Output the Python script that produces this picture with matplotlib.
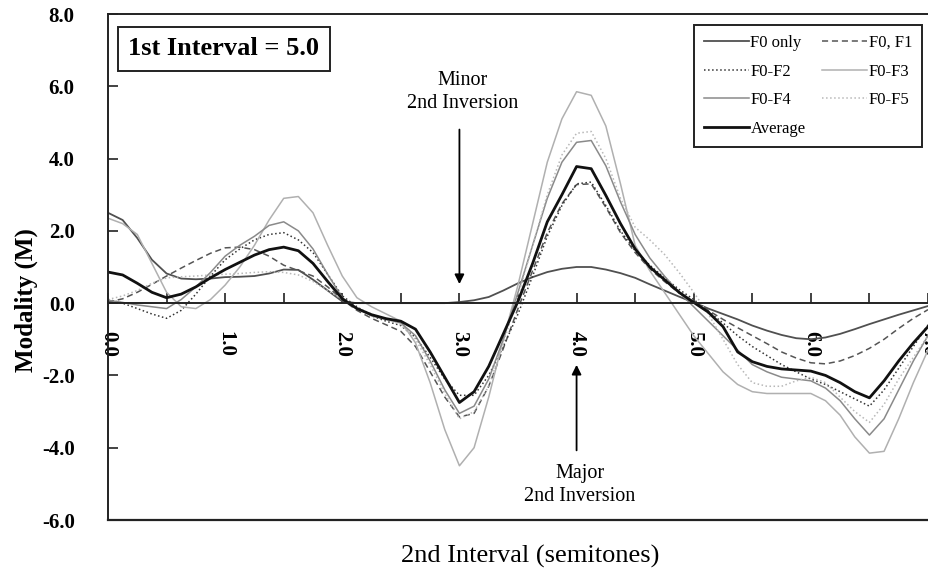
import numpy as np
import matplotlib.pyplot as plt
from matplotlib.ticker import MultipleLocator, FixedLocator

### Data (modality per 2nd interval, 1st interval = 5.0) ###
# sampled every 1/8 semitone from 0.0 to 7.0
semitones = np.arange(57) * 0.125

f0_only = [2.5, 2.3, 1.8, 1.2, 0.82, 0.68, 0.66, 0.68, 0.72, 0.73, 0.75, 0.82,
           0.93, 0.92, 0.65, 0.35, 0.05, 0.0, 0.0, 0.0, 0.0, 0.0, 0.0, 0.0,
           0.03, 0.08, 0.17, 0.35, 0.55, 0.72, 0.86, 0.95, 1.0, 1.0, 0.93, 0.83,
           0.7, 0.52, 0.35, 0.18, 0.02, -0.15, -0.3, -0.45, -0.62, -0.76, -0.88, -0.97,
           -1.0, -0.95, -0.85, -0.72, -0.58, -0.45, -0.32, -0.2, -0.08]
f0_f1 = [0.03, 0.12, 0.3, 0.52, 0.75, 0.97, 1.18, 1.38, 1.53, 1.55, 1.48, 1.3,
         1.05, 0.9, 0.75, 0.45, 0.1, -0.2, -0.42, -0.6, -0.78, -1.2, -1.9, -2.6,
         -3.15, -3.05, -2.3, -1.25, -0.15, 0.9, 1.95, 2.75, 3.28, 3.3, 2.65, 1.95,
         1.4, 0.95, 0.6, 0.28, 0.03, -0.2, -0.45, -0.68, -0.9, -1.12, -1.35, -1.52,
         -1.65, -1.68, -1.6, -1.45, -1.25, -1.0, -0.7, -0.42, -0.18]
f0_f2 = [0.1, 0.0, -0.15, -0.3, -0.42, -0.2, 0.25, 0.75, 1.2, 1.5, 1.75, 1.9,
         1.95, 1.75, 1.4, 0.8, 0.2, -0.1, -0.35, -0.5, -0.62, -0.95, -1.5, -2.1,
         -2.55, -2.55, -2.0, -1.2, -0.3, 0.75, 1.85, 2.7, 3.3, 3.35, 2.7, 2.0,
         1.45, 1.05, 0.7, 0.38, 0.1, -0.22, -0.55, -0.9, -1.2, -1.45, -1.7, -1.9,
         -2.1, -2.25, -2.45, -2.65, -2.85, -2.4, -1.8, -1.2, -0.6]
f0_f3 = [2.35, 2.2, 1.9, 1.1, 0.3, -0.1, -0.15, 0.1, 0.5, 1.0, 1.6, 2.3,
         2.9, 2.95, 2.5, 1.6, 0.75, 0.15, -0.1, -0.3, -0.5, -1.1, -2.2, -3.5,
         -4.5, -4.0, -2.6, -1.0, 0.5, 2.2, 3.9, 5.1, 5.85, 5.75, 4.9, 3.3,
         1.6, 0.9, 0.3, -0.3, -0.9, -1.4, -1.9, -2.25, -2.45, -2.5, -2.5, -2.5,
         -2.5, -2.7, -3.1, -3.7, -4.15, -4.1, -3.2, -2.2, -1.3]
f0_f4 = [0.08, 0.02, -0.05, -0.1, -0.15, 0.1, 0.45, 0.85, 1.3, 1.6, 1.85, 2.15,
         2.25, 2.0, 1.5, 0.8, 0.15, -0.15, -0.35, -0.45, -0.55, -0.9, -1.6, -2.4,
         -3.05, -2.85, -2.1, -1.0, 0.3, 1.6, 2.9, 3.9, 4.45, 4.5, 3.8, 2.8,
         1.9, 1.25, 0.75, 0.3, -0.1, -0.5, -0.9, -1.3, -1.7, -1.9, -2.05, -2.1,
         -2.15, -2.35, -2.7, -3.2, -3.65, -3.2, -2.4, -1.6, -0.9]
f0_f5 = [0.1, 0.2, 0.35, 0.55, 0.7, 0.73, 0.75, 0.78, 0.8, 0.82, 0.85, 0.87,
         0.85, 0.78, 0.6, 0.35, 0.1, -0.12, -0.3, -0.45, -0.6, -1.0, -1.7, -2.5,
         -3.2, -3.0, -2.3, -1.1, 0.2, 1.6, 3.0, 4.1, 4.7, 4.75, 4.0, 2.9,
         2.1, 1.75, 1.35, 0.85, 0.3, -0.3, -1.0, -1.7, -2.2, -2.3, -2.3, -2.15,
         -2.05, -2.2, -2.6, -3.0, -3.3, -2.8, -2.1, -1.5, -0.9]
average = [0.86, 0.78, 0.55, 0.3, 0.15, 0.25, 0.45, 0.7, 0.93, 1.13, 1.33, 1.48,
           1.55, 1.45, 1.1, 0.6, 0.12, -0.15, -0.32, -0.43, -0.5, -0.72, -1.35, -2.05,
           -2.75, -2.45, -1.75, -0.85, 0.05, 1.1, 2.25, 3.0, 3.78, 3.72, 2.98, 2.2,
           1.5, 1.0, 0.65, 0.3, 0.02, -0.25, -0.65, -1.35, -1.62, -1.75, -1.82, -1.85,
           -1.88, -2.0, -2.2, -2.45, -2.62, -2.15, -1.6, -1.1, -0.65]

serif = ['Liberation Serif', 'DejaVu Serif']
plt.rcParams['font.family'] = serif

fig = plt.figure(figsize=(9.29, 5.74), dpi=100, facecolor='w')
ax = fig.add_axes([108/929, 1 - 520/574, 820/929, 506/574])

# individual series
ax.plot(semitones, f0_only, '-', color='#505050', lw=1.3, label='F0 only')
ax.plot(semitones, f0_f1, '--', color='#555555', lw=1.1, dashes=(4, 2.5), label='F0, F1')
ax.plot(semitones, f0_f2, ':', color='#333333', lw=1.1, label='F0-F2')
ax.plot(semitones, f0_f3, '-', color='#b0b0b0', lw=1.1, label='F0-F3')
ax.plot(semitones, f0_f4, '-', color='#8a8a8a', lw=1.1, label='F0-F4')
ax.plot(semitones, f0_f5, ':', color='#b8b8b8', lw=1.1, label='F0-F5')
ax.plot(semitones, average, '-', color='#111111', lw=2.0, label='Average')

ax.set_xlim(0, 7)
ax.set_ylim(-6, 8)

# axes frame: x axis drawn through zero, box closed at the bottom
ax.spines['bottom'].set_position(('data', 0))
ax.spines['right'].set_visible(False)
for s in ['bottom', 'left', 'top']:
    ax.spines[s].set_linewidth(1.4)
    ax.spines[s].set_color('#222222')
ax.axhline(-6, color='#222222', lw=1.6, clip_on=False)

ax.xaxis.set_major_locator(MultipleLocator(1.0))
ax.xaxis.set_minor_locator(MultipleLocator(0.5))
ax.yaxis.set_major_locator(FixedLocator([-6, -4, -2, 0, 2, 4, 6, 8]))
ax.tick_params(axis='x', which='both', direction='in', length=7, width=1.2, color='#222222')
ax.tick_params(axis='x', which='major', pad=20)
ax.tick_params(axis='y', direction='in', length=7, width=1.2, color='#222222', pad=24)

ax.set_xticks(np.arange(0, 8, 1.0))
ax.set_xticklabels(['%.1f' % v for v in np.arange(0, 8, 1.0)], rotation=-90,
                   fontsize=15, fontweight='bold', va='top', ha='center')
ax.set_yticklabels(['%.1f' % v for v in [-6, -4, -2, 0, 2, 4, 6, 8]],
                   fontsize=15, fontweight='bold')

fig.text(26/929, 1 - 300/574, 'Modality (M)', rotation=90, ha='center', va='center',
         fontsize=18, fontweight='bold')
fig.text(530/929, 1 - 556/574, '2nd Interval (semitones)', ha='center', va='center',
         fontsize=19)

# interval box
ax.text(0.175, 7.04, '1st Interval = 5.0', fontsize=19, fontweight='bold', ha='left', va='center',
        bbox=dict(boxstyle='square,pad=0.4', fc='w', ec='#222222', lw=1.4))

# inversion markers
ax.annotate('', xy=(3.0, 0.45), xytext=(3.0, 4.88),
            arrowprops=dict(arrowstyle='-|>', color='k', lw=1.3, mutation_scale=14))
ax.text(3.03, 5.84, 'Minor\n2nd Inversion', ha='center', va='center', fontsize=14.5,
        linespacing=1.3)
ax.annotate('', xy=(4.0, -1.63), xytext=(4.0, -4.15),
            arrowprops=dict(arrowstyle='-|>', color='k', lw=1.3, mutation_scale=14))
ax.text(4.03, -5.04, 'Major\n2nd Inversion', ha='center', va='center', fontsize=14.5,
        linespacing=1.3)

# legend: two columns, same ordering as the key
handles, labels = ax.get_legend_handles_labels()
order = [0, 2, 4, 6, 1, 3, 5]
lgd = ax.legend([handles[i] for i in order], [labels[i] for i in order], ncol=2,
                loc='upper right', bbox_to_anchor=(0.993, 0.978), borderaxespad=0,
                fontsize=12, handlelength=2.7, handletextpad=0.1, columnspacing=1.0,
                labelspacing=0.75, fancybox=False, framealpha=1, edgecolor='#222222',
                borderpad=0.6)
lgd.get_frame().set_linewidth(1.4)

plt.savefig('out.png', dpi=100, facecolor='w')
